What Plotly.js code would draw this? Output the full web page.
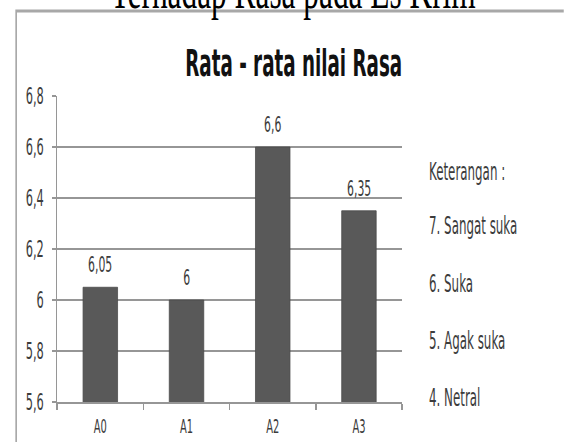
<!DOCTYPE html>
<html><head><meta charset="utf-8">
<script src="https://cdn.plot.ly/plotly-3.0.1.min.js"></script>
<style>
html,body{margin:0;padding:0;overflow:hidden;background:#fff;width:564px;height:442px}
#wrap{width:564px;height:442px;overflow:hidden;position:relative}
#chart{width:1025px;height:442px;transform:scaleX(0.55);transform-origin:0 0}
</style>
</head><body><div id="wrap"><div id="chart"></div></div>
<script>
// ---- data ----
const categories = ['A0', 'A1', 'A2', 'A3'];
const nilaiRasa = [6.05, 6.0, 6.6, 6.35];
const yTicks = [5.6, 5.8, 6.0, 6.2, 6.4, 6.6, 6.8];
const keterangan = ['Keterangan :', '7. Sangat suka', '6. Suka', '5. Agak suka', '4. Netral'];
const chartTitle = 'Rata - rata nilai Rasa';
const pageHeading = 'Terhadap Rasa pada Es Krim';

// ---- helpers ----
const fmt = v => String(v).replace('.', ',');
const FONT = "'Liberation Sans Narrow', 'DejaVu Sans Condensed', 'Roboto Condensed', 'DejaVu Sans', sans-serif";
const TXT = '#3c3c3c';
const GRID = '#969696';

// legend text vertical positions (paper coords)
const ketY = [0.752, 0.575, 0.386, 0.199, 0.013];

const annotations = [];
categories.forEach((c, i) => {
  annotations.push({
    x: c, y: nilaiRasa[i], xref: 'x', yref: 'y',
    text: fmt(nilaiRasa[i]), showarrow: false,
    yanchor: 'bottom', yshift: 8,
    font: {family: FONT, size: 22, color: TXT}
  });
});
keterangan.forEach((t, i) => {
  annotations.push({
    x: 1.075, y: ketY[i], xref: 'paper', yref: 'paper',
    text: t, showarrow: false, xanchor: 'left', yanchor: 'middle',
    font: {family: FONT, size: 24, color: TXT}
  });
});
annotations.push({
  x: 0.685, y: 1.351, xref: 'paper', yref: 'paper',
  text: pageHeading, showarrow: false, xanchor: 'center', yanchor: 'middle',
  font: {family: "'Liberation Serif', 'Times New Roman', serif", size: 57, color: '#000'}
});

const trace = {
  type: 'bar',
  x: categories,
  y: nilaiRasa,
  marker: {color: '#595959', line: {color: '#4a4a4a', width: 1}},
  hoverinfo: 'x+y'
};

const layout = {
  width: 1025, height: 442,
  margin: {l: 104, r: 294, t: 96, b: 40, pad: 0},
  paper_bgcolor: '#fff', plot_bgcolor: '#fff',
  showlegend: false,
  bargap: 0.6,
  separators: ',.',
  title: {
    text: chartTitle,
    x: 0.521, xref: 'container', xanchor: 'center',
    y: 0.858, yref: 'container', yanchor: 'middle',
    font: {family: FONT, size: 37, color: '#111', weight: 'bold'}
  },
  xaxis: {
    type: 'category',
    tickson: 'boundaries',
    ticks: 'outside', ticklen: 6, tickwidth: 2.5, tickcolor: GRID,
    showline: true, linecolor: GRID, linewidth: 1.5,
    showgrid: false, zeroline: false,
    ticklabelstandoff: 5,
    tickfont: {family: FONT, size: 20, color: TXT}
  },
  yaxis: {
    range: [5.6, 6.8],
    tickvals: yTicks,
    ticktext: yTicks.map(fmt),
    ticks: 'outside', ticklen: 7, tickwidth: 2, tickcolor: GRID,
    showline: true, linecolor: GRID, linewidth: 2.5,
    showgrid: true, gridcolor: GRID, gridwidth: 2,
    zeroline: false,
    ticklabelstandoff: 10,
    tickfont: {family: FONT, size: 23, color: TXT}
  },
  annotations: annotations,
  shapes: [{
    type: 'rect', xref: 'paper', yref: 'paper', layer: 'below',
    x0: -0.119, x1: 1.7, y0: -0.2, y1: 1.278,
    line: {color: '#a8a8a8', width: 3}, fillcolor: 'rgba(0,0,0,0)'
  }]
};

Plotly.newPlot('chart', [trace], layout, {displayModeBar: false, responsive: false});
</script>
</body></html>
